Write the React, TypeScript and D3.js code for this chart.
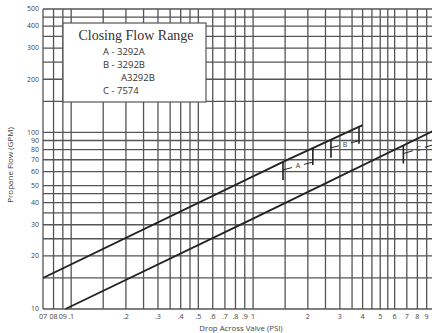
import { useEffect, useRef } from "react";
import * as d3 from "d3";

// ── Data ────────────────────────────────────────────────────────────────────
const X_TICKS = [0.07, 0.08, 0.09, 0.1, 0.2, 0.3, 0.4, 0.5, 0.6, 0.7, 0.8, 0.9, 1, 2, 3, 4, 5, 6, 7, 8, 9, 10];
const X_TICK_LABELS = ["07", "08", "09", ".1", ".2", ".3", ".4", ".5", ".6", ".7", ".8", ".9", "1", "2", "3", "4", "5", "6", "7", "8", "9", "10"];
const Y_TICKS = [10, 20, 30, 40, 50, 60, 70, 80, 90, 100, 200, 300, 400, 500];

const X_GRID = [0.07, 0.08, 0.09, 0.1, 0.15, 0.2, 0.25, 0.3, 0.35, 0.4, 0.45, 0.5, 0.6, 0.7, 0.8, 0.9,
  1, 1.5, 2, 2.5, 3, 3.5, 4, 4.5, 5, 5.5, 6, 7, 8, 9, 10];
const Y_GRID = [10, 15, 20, 25, 30, 35, 40, 45, 50, 60, 70, 80, 90, 100, 150, 200, 250, 300, 350, 400, 450, 500];

// upper flow line
const UPPER_DROP = [0.07, 1.5, 4];
const UPPER_FLOW = [15, 69, 110];
// lower flow line
const LOWER_DROP = [0.093, 1, 10];
const LOWER_FLOW = [10, 32.5, 103];

// closing flow range brackets
const RANGE_LABELS = ["A", "B", "C"];
const RANGE_FROM = [1.46, 2.68, 6.7];
const RANGE_TO = [2.13, 3.82, 9.9];
const RANGE_LINE = ["upper", "upper", "lower"];

const LEGEND_TITLE = "Closing Flow Range";
const LEGEND_ITEMS = ["A - 3292A", "B - 3292B", "A3292B", "C - 7574"];

const C_GRID = "#555";
const C_LINE = "#222";
const C_TEXT = "#444";
const SANS = "'Open Sans', 'DejaVu Sans', sans-serif";

export default function App() {
  const svgRef = useRef<SVGSVGElement>(null);

  useEffect(() => {
    const svg = d3.select(svgRef.current);
    svg.selectAll("*").remove();

    const left = 43, right = 435, top = 9, bottom = 309;
    const x = d3.scaleLog().domain([0.07, 10]).range([left, right]);
    const y = d3.scaleLog().domain([10, 500]).range([bottom, top]);

    svg.append("defs").append("clipPath").attr("id", "plot")
      .append("rect").attr("x", left).attr("y", top - 1)
      .attr("width", right - left).attr("height", bottom - top + 2);

    // ── grid ─────────────────────────────────────────────────────────────
    const grid = svg.append("g").attr("stroke", C_GRID).attr("stroke-width", 1.3);
    grid.selectAll("line.v").data(X_GRID).join("line").attr("class", "v")
      .attr("x1", d => x(d)).attr("x2", d => x(d)).attr("y1", top).attr("y2", bottom);
    grid.selectAll("line.h").data(Y_GRID).join("line").attr("class", "h")
      .attr("x1", left).attr("x2", right).attr("y1", d => y(d)).attr("y2", d => y(d));

    // ── tick labels ──────────────────────────────────────────────────────
    svg.append("g").selectAll("text").data(Y_TICKS).join("text")
      .attr("x", 39).attr("y", d => y(d)).attr("dy", "0.33em")
      .attr("text-anchor", "end").attr("font-family", SANS).attr("font-size", 7)
      .attr("fill", C_TEXT).text(d => String(d));

    svg.append("g").selectAll("text").data(X_TICKS).join("text")
      .attr("x", d => x(d)).attr("y", 319)
      .attr("text-anchor", "middle").attr("font-family", SANS).attr("font-size", 7.2)
      .attr("fill", C_TEXT).text((_, i) => X_TICK_LABELS[i]);

    // axis titles
    svg.append("text")
      .attr("transform", "translate(13,165) rotate(-90)")
      .attr("text-anchor", "middle").attr("font-family", SANS).attr("font-size", 8)
      .attr("fill", C_TEXT).text("Propane Flow (GPM)");
    svg.append("text")
      .attr("x", 241).attr("y", 331)
      .attr("text-anchor", "middle").attr("font-family", SANS).attr("font-size", 7.8)
      .attr("fill", C_TEXT).text("Drop Across Valve (PSI)");

    // ── flow lines ───────────────────────────────────────────────────────
    const plot = svg.append("g").attr("clip-path", "url(#plot)");
    const line = d3.line<number[]>().x(d => x(d[0])).y(d => y(d[1]));
    const series: Record<string, [number[], number[]]> = {
      upper: [UPPER_DROP, UPPER_FLOW],
      lower: [LOWER_DROP, LOWER_FLOW],
    };
    Object.values(series).forEach(([drop, flow]) => {
      plot.append("path").datum(drop.map((d, i) => [d, flow[i]]))
        .attr("d", line).attr("fill", "none")
        .attr("stroke", C_LINE).attr("stroke-width", 1.8);
    });

    // flow on a line at a given drop (log-log interpolation of the read points)
    const flowAt = (key: string, p: number) => {
      const [drop, flow] = series[key];
      const s = d3.scaleLog().domain(drop).range(flow.map(Math.log10));
      return Math.pow(10, s(p));
    };

    // ── range brackets ───────────────────────────────────────────────────
    RANGE_LABELS.forEach((lab, i) => {
      const key = RANGE_LINE[i];
      const x1 = x(RANGE_FROM[i]), x2 = x(RANGE_TO[i]);
      const y1 = y(flowAt(key, RANGE_FROM[i])), y2 = y(flowAt(key, RANGE_TO[i]));
      const b = plot.append("g").attr("stroke", C_LINE);
      b.append("line").attr("x1", x1).attr("x2", x1).attr("y1", y1).attr("y2", y1 + 18)
        .attr("stroke-width", 1.6);
      b.append("line").attr("x1", x2).attr("x2", x2).attr("y1", y2).attr("y2", y2 + 17)
        .attr("stroke-width", 1.6);
      const ly1 = y1 + 8, ly2 = y2 + 14;
      const mx = (x1 + x2) / 2, my = (ly1 + ly2) / 2;
      const t = 6 / (x2 - x1);
      b.append("line").attr("x1", x1).attr("y1", ly1)
        .attr("x2", mx - (x2 - x1) * t).attr("y2", my - (ly2 - ly1) * t)
        .attr("stroke-width", 1);
      b.append("line").attr("x1", mx + (x2 - x1) * t).attr("y1", my + (ly2 - ly1) * t)
        .attr("x2", x2).attr("y2", ly2).attr("stroke-width", 1);
      plot.append("text").attr("x", mx).attr("y", my).attr("dy", "0.35em")
        .attr("text-anchor", "middle").attr("font-family", SANS).attr("font-size", 7)
        .attr("fill", C_TEXT).text(lab);
    });

    // ── legend box ───────────────────────────────────────────────────────
    const lg = svg.append("g");
    lg.append("rect").attr("x", 63).attr("y", 23).attr("width", 143).attr("height", 79)
      .attr("fill", "#fff").attr("stroke", C_GRID).attr("stroke-width", 1.2);
    lg.append("text").attr("x", 136).attr("y", 40).attr("text-anchor", "middle")
      .attr("font-family", "'Liberation Serif', 'DejaVu Serif', serif").attr("font-size", 14)
      .attr("fill", "#333").text(LEGEND_TITLE);
    const itemY = [55, 68, 81, 94];
    LEGEND_ITEMS.forEach((t, i) => {
      lg.append("text").attr("x", t.startsWith("A3") ? 121 : 103).attr("y", itemY[i])
        .attr("font-family", SANS).attr("font-size", 9.5)
        .attr("fill", "#333").text(t);
    });
  }, []);

  return (
    <svg ref={svgRef} width={432} height={333}
      style={{ position: "absolute", left: 0, top: 0, background: "#fff" }} />
  );
}
